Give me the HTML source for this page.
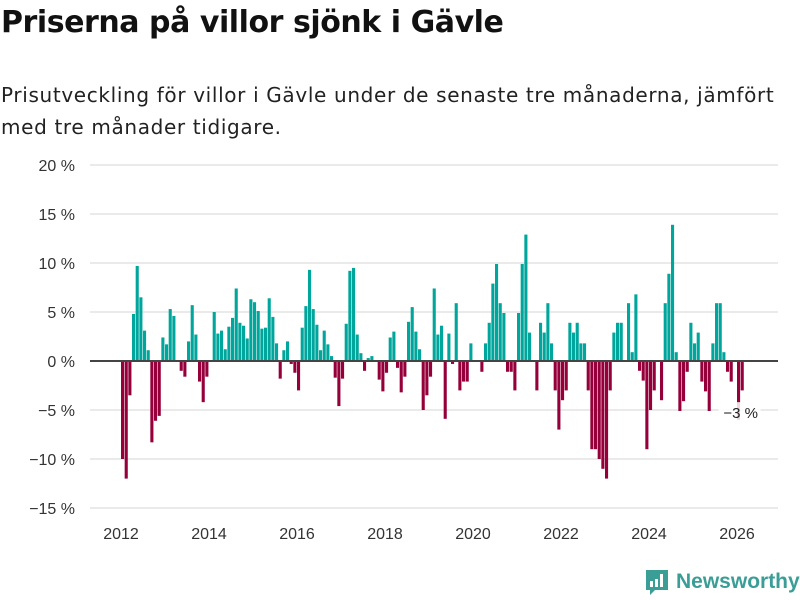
<!DOCTYPE html>
<html><head><meta charset="utf-8">
<style>
body{margin:0;width:800px;height:600px;background:#fff;font-family:"Liberation Sans","DejaVu Sans",sans-serif;overflow:hidden}
h1{position:absolute;left:1px;top:5px;margin:0;font-family:"DejaVu Sans",sans-serif;font-size:30px;font-weight:bold;color:#111;letter-spacing:-0.45px;white-space:nowrap}
p.sub{position:absolute;left:1px;top:79px;margin:0;font-family:"DejaVu Sans",sans-serif;font-size:20px;line-height:32px;color:#222;white-space:nowrap;letter-spacing:0.65px}
svg{position:absolute;left:0;top:0}
</style></head><body>
<h1>Priserna på villor sjönk i Gävle</h1>
<p class="sub">Prisutveckling för villor i Gävle under de senaste tre månaderna, jämfört<br>med tre månader tidigare.</p>
<svg id="chart" width="800" height="600"></svg>
<div style="position:absolute;left:645px;top:568px;display:flex;align-items:center">
<svg width="24" height="28" viewBox="0 0 24 28" style="position:static"><path d="M1 2h22v20H10l-5 5v-5H1z" fill="#3a9e96"/><rect x="5" y="13" width="3" height="6" fill="#fff"/><rect x="10" y="11" width="3" height="8" fill="#fff"/><rect x="15" y="6" width="3" height="13" fill="#fff"/></svg>
<span style="font-size:21px;font-weight:bold;color:#3a9e96;margin-left:7px">Newsworthy</span></div>
<script>
const startYear = 2012;
const values = [-10,-12,-3.5,4.8,9.7,6.5,3.1,1.1,-8.3,-6.1,-5.6,2.4,1.7,5.3,4.6,0,-1.0,-1.6,2.0,5.7,2.7,-2.1,-4.2,-1.6,
0,5.0,2.8,3.1,1.2,3.5,4.4,7.4,3.9,3.6,2.3,6.3,6.0,5.1,3.3,3.4,6.4,4.5,1.8,-1.8,1.1,2.0,-0.3,-1.2,
-3.0,3.4,5.6,9.3,5.3,3.7,1.1,3.1,1.7,0.5,-1.7,-4.6,-1.8,3.8,9.2,9.5,2.7,0.8,-1.0,0.3,0.5,0,-1.9,-3.1,
-1.2,2.4,3.0,-0.7,-3.2,-1.6,4.0,5.5,3.0,1.2,-5.0,-3.5,-1.6,7.4,2.7,3.6,-5.9,2.8,-0.3,5.9,-3.0,-2.1,
-2.1,1.8,0,0,-1.1,1.8,3.9,7.9,9.9,5.9,4.9,-1.1,-1.1,-3.0,4.9,9.9,12.9,2.9,0,-3.0,3.9,2.9,5.9,1.8,
-3.0,-7.0,-4.0,-3.0,3.9,2.9,3.9,1.8,1.8,-3.0,-9.0,-9.0,-10,-11,-12,-3.0,2.9,3.9,3.9,0,5.9,0.9,6.8,-1.0,
-2.0,-9.0,-5.0,-3.0,0,-4.0,5.9,8.9,13.9,0.9,-5.1,-4.1,-1.1,3.9,1.8,2.9,-2.1,-3.1,-5.1,1.8,5.9,5.9,0.9,-1.1,
-2.1,0,-6.0,-3.0];
const yTicks = [20,15,10,5,0,-5,-10,-15];
const xTicks = [2012,2014,2016,2018,2020,2022,2024,2026];
const lastLabel = "−3 %";

const NS="http://www.w3.org/2000/svg";
const svg=document.getElementById('chart');
const y0=361, pxPer=9.8;
const yS=v=>y0 - v*pxPer;
const xS=yr=>121 + (yr-2012)*44;
const mW=44/12;
function mk(t,a){const e=document.createElementNS(NS,t);for(const k in a)e.setAttribute(k,a[k]);svg.appendChild(e);return e;}
yTicks.forEach(t=>{
  if(t!==0){const g=mk('line',{x1:90,x2:778,y1:yS(t),y2:yS(t),stroke:'#dedede','stroke-width':1.3});
  
  }
  const l=mk('text',{x:75,y:yS(t)+6,'text-anchor':'end','font-size':16,fill:'#333'});
  l.textContent=(t<0?'−'+(-t):t)+' %';
  
  
});
xTicks.forEach(yr=>{
  const l=mk('text',{x:xS(yr),y:539,'text-anchor':'middle','font-size':16,fill:'#333'});
  l.textContent=yr;
  
  
});
values.forEach((v,i)=>{
  if(v===0)return;
  const x=xS(startYear)+i*mW;
  const r=mk('rect',{x:x.toFixed(2),y:Math.min(yS(v),y0),width:3.1,height:Math.abs(yS(v)-y0),fill:v>0?'#00a69c':'#95003a'});
  
  
});
const z=mk('line',{x1:90,x2:778,y1:y0,y2:y0,stroke:'#444','stroke-width':2});


const lx=xS(startYear)+(values.length-1)*mW;
const bg=mk('rect',{x:lx-22,y:yS(-4.3)-1,width:42,height:20,fill:'#fff',opacity:0.85});


const lab=mk('text',{x:lx,y:yS(-4.3)+15,'text-anchor':'middle','font-size':15,fill:'#222'});
lab.textContent=lastLabel;


</script>
</body></html>
